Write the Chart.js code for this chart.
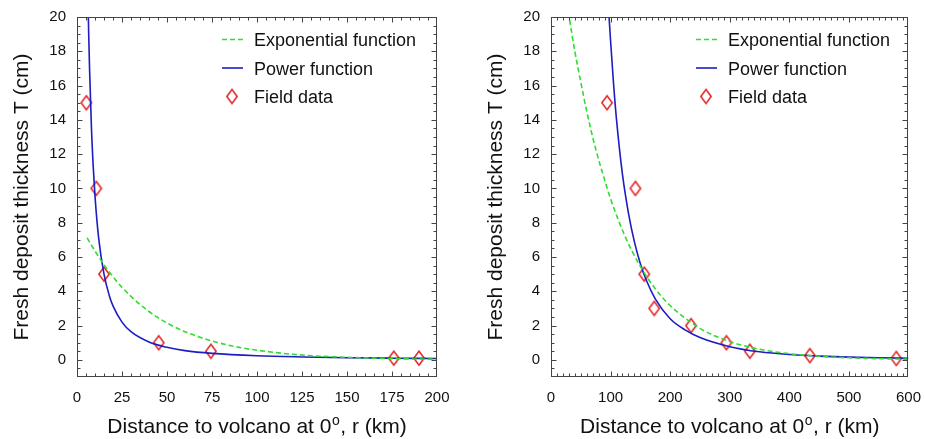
<!DOCTYPE html>
<html>
<head>
<meta charset="utf-8">
<title>Fresh deposit thickness vs distance</title>
<script src="https://cdn.jsdelivr.net/npm/chart.js@4.4.1/dist/chart.umd.min.js"></script>
<style>
  html, body { margin: 0; padding: 0; background: #fff; }
  .wrap { position: absolute; top: 0; height: 439px; }
  #w1 { left: 0; width: 462px; }
  #w2 { left: 462px; width: 463px; }
</style>
</head>
<body>
<div class="wrap" id="w1"><canvas id="c1"></canvas></div>
<div class="wrap" id="w2"><canvas id="c2"></canvas></div>
<script>
// tick labels
const yTicks = [0, 2, 4, 6, 8, 10, 12, 14, 16, 18, 20];
const xTicksLeft = [0, 25, 50, 75, 100, 125, 150, 175, 200];
const xTicksRight = [0, 100, 200, 300, 400, 500, 600];

// left panel (r in km, T in cm)
const leftFieldR = [5.2, 10.7, 15, 45.4, 74.4, 176, 190];
const leftFieldT = [15, 10, 5, 1, 0.5, 0.1, 0.1];
const leftExpR = [5.6, 10, 15, 20, 25, 30, 40, 50, 60, 75, 90, 100, 125, 150, 175, 200];
const leftExpT = [7.12, 6.35, 5.55, 4.85, 4.23, 3.7, 2.82, 2.15, 1.64, 1.1, 0.73, 0.56, 0.28, 0.15, 0.07, 0.04];
const leftPowR = [6, 6.5, 7, 8, 9, 10, 12, 15, 18, 20, 25, 30, 40, 50, 60, 75, 100, 125, 150, 175, 200];
const leftPowT = [21.6, 19, 16.9, 13.6, 11.3, 9.55, 7.13, 5.0, 3.73, 3.15, 2.2, 1.64, 1.04, 0.73, 0.54, 0.38, 0.24, 0.17, 0.125, 0.098, 0.079];

// right panel
const rightFieldR = [94, 141.7, 156.6, 173.2, 235, 294.4, 333.7, 434.4, 579.5];
const rightFieldT = [15, 10, 5, 3, 2, 1, 0.5, 0.25, 0.08];
const rightExpR = [25, 30, 40, 50, 60, 75, 90, 100, 125, 150, 175, 200, 250, 300, 350, 400, 450, 500, 550, 600];
const rightExpT = [21.2, 20.1, 18, 16.2, 14.5, 12.3, 10.5, 9.39, 7.15, 5.45, 4.15, 3.17, 1.84, 1.07, 0.62, 0.36, 0.21, 0.12, 0.07, 0.04];
const rightPowR = [96, 98, 100, 105, 110, 120, 130, 140, 150, 160, 175, 200, 225, 250, 300, 350, 400, 450, 500, 550, 600];
const rightPowT = [20.9, 19.7, 18.6, 16.1, 14, 10.8, 8.56, 6.88, 5.61, 4.64, 3.56, 2.4, 1.75, 1.3, 0.77, 0.47, 0.31, 0.22, 0.16, 0.12, 0.094];

const FONT = '"Liberation Sans", Arial, Helvetica, sans-serif';
const GREEN = '#2fdc2f';
const BLUE = '#1d1dc4';
const RED = '#e21f1f';

function pts(xs, ys) {
  return xs.map((x, i) => ({ x: x, y: ys[i] }));
}

// tall diamond marker
const diamond = document.createElement('canvas');
diamond.width = 14;
diamond.height = 18;
(function () {
  const c = diamond.getContext('2d');
  c.strokeStyle = RED;
  c.lineWidth = 1.5;
  c.beginPath();
  c.moveTo(7, 2);
  c.lineTo(12.2, 9);
  c.lineTo(7, 16);
  c.lineTo(1.8, 9);
  c.closePath();
  c.stroke();
})();

// box frame with inward ticks on all four sides + legend + x title
const framePlugin = {
  id: 'frameTicks',
  afterDatasetsDraw(chart, args, opts) {
    const { ctx, chartArea: a, scales: { x, y } } = chart;
    const L = Math.round(a.left) + 0.5, R = Math.round(a.right) - 0.5;
    const T = Math.round(a.top) + 0.5, B = Math.round(a.bottom) - 0.5;
    ctx.save();
    ctx.strokeStyle = '#444';
    ctx.lineWidth = 1;
    ctx.strokeRect(L, T, R - L, B - T);
    ctx.beginPath();
    const nx = Math.round((x.max - x.min) / opts.xMinor);
    for (let i = 1; i < nx; i++) {
      const v = x.min + i * opts.xMinor;
      const len = v % opts.xMajor === 0 ? 5 : 3;
      const px = Math.round(x.getPixelForValue(v)) + 0.5;
      ctx.moveTo(px, B); ctx.lineTo(px, B - len);
      ctx.moveTo(px, T); ctx.lineTo(px, T + len);
    }
    const ny = Math.round((y.max - y.min) / 0.5);
    for (let i = 1; i < ny; i++) {
      const v = y.min + i * 0.5;
      const len = (v >= 0 && v % 2 === 0) ? 5 : 3;
      const py = Math.round(y.getPixelForValue(v)) + 0.5;
      ctx.moveTo(L, py); ctx.lineTo(L + len, py);
      ctx.moveTo(R, py); ctx.lineTo(R - len, py);
    }
    ctx.stroke();
    ctx.restore();
  },
  afterDraw(chart) {
    const { ctx, chartArea: a } = chart;
    const ds = chart.data.datasets;
    ctx.save();
    // legend
    ctx.font = '18px ' + FONT;
    ctx.fillStyle = '#111';
    ctx.textBaseline = 'alphabetic';
    ctx.textAlign = 'left';
    const sx = a.left + 145, tx = a.left + 177;
    ds.forEach((d, i) => {
      const base = a.top + 29 + i * 28.5;
      const my = base - 6.5;
      if (d.showLine) {
        ctx.strokeStyle = d.borderColor;
        ctx.lineWidth = d.borderWidth;
        ctx.setLineDash(d.borderDash || []);
        ctx.beginPath();
        ctx.moveTo(sx, my);
        ctx.lineTo(sx + 21, my);
        ctx.stroke();
        ctx.setLineDash([]);
      } else {
        ctx.drawImage(diamond, sx + 10 - diamond.width / 2, my - diamond.height / 2);
      }
      ctx.fillText(d.label, tx, base);
    });
    // x axis title with superscript o
    const partA = 'Distance to volcano at 0', sup = 'o', partB = ', r (km)';
    const main = '21px ' + FONT, small = '14px ' + FONT;
    ctx.font = main;
    const wa = ctx.measureText(partA).width, wb = ctx.measureText(partB).width;
    ctx.font = small;
    const ws = ctx.measureText(sup).width + 1;
    let x0 = (a.left + a.right) / 2 - (wa + ws + wb) / 2;
    const yb = 433;
    ctx.font = main;
    ctx.fillText(partA, x0, yb);
    ctx.font = small;
    ctx.fillText(sup, x0 + wa + 0.5, yb - 8);
    ctx.font = main;
    ctx.fillText(partB, x0 + wa + ws, yb);
    ctx.restore();
  }
};

function makeChart(id, cfg) {
  return new Chart(document.getElementById(id), {
    type: 'scatter',
    data: {
      datasets: [
        {
          label: 'Exponential function',
          data: pts(cfg.expR, cfg.expT),
          showLine: true,
          borderColor: GREEN,
          borderWidth: 1.6,
          borderDash: [5, 3],
          pointRadius: 0,
          pointHitRadius: 0,
          cubicInterpolationMode: 'monotone'
        },
        {
          label: 'Power function',
          data: pts(cfg.powR, cfg.powT),
          showLine: true,
          borderColor: BLUE,
          borderWidth: 1.6,
          pointRadius: 0,
          pointHitRadius: 0,
          cubicInterpolationMode: 'monotone'
        },
        {
          label: 'Field data',
          data: pts(cfg.fieldR, cfg.fieldT),
          showLine: false,
          pointStyle: diamond,
          pointRadius: 7
        }
      ]
    },
    options: {
      responsive: true,
      maintainAspectRatio: false,
      animation: false,
      layout: { padding: { top: 17, right: cfg.padRight, bottom: 0, left: 0 } },
      plugins: {
        legend: { display: false },
        tooltip: { enabled: false },
        frameTicks: { xMinor: cfg.xMinor, xMajor: cfg.xMajor }
      },
      scales: {
        x: {
          type: 'linear',
          min: 0,
          max: cfg.xMax,
          grid: { display: false },
          border: { display: false },
          ticks: { font: { family: FONT, size: 15 }, color: '#111', padding: 4, maxRotation: 0 },
          afterBuildTicks: (s) => { s.ticks = cfg.xTicks.map(v => ({ value: v })); },
          afterFit: (s) => { s.height = 62; }
        },
        y: {
          type: 'linear',
          min: -1,
          max: 20,
          grid: { display: false },
          border: { display: false },
          ticks: { font: { family: FONT, size: 15 }, color: '#111', padding: 3 },
          title: {
            display: true,
            text: 'Fresh deposit thickness T (cm)',
            font: { family: FONT, size: 21 },
            color: '#111',
            padding: { top: cfg.titlePad, bottom: 0 }
          },
          afterBuildTicks: (s) => { s.ticks = yTicks.map(v => ({ value: v })); },
          afterFit: (s) => { s.width = cfg.yWidth; }
        }
      }
    },
    plugins: [framePlugin]
  });
}

makeChart('c1', {
  expR: leftExpR, expT: leftExpT, powR: leftPowR, powT: leftPowT,
  fieldR: leftFieldR, fieldT: leftFieldT,
  xMax: 200, xTicks: xTicksLeft, xMinor: 5, xMajor: 25,
  yWidth: 77, padRight: 25, titlePad: 10
});

makeChart('c2', {
  expR: rightExpR, expT: rightExpT, powR: rightPowR, powT: rightPowT,
  fieldR: rightFieldR, fieldT: rightFieldT,
  xMax: 600, xTicks: xTicksRight, xMinor: 10, xMajor: 100,
  yWidth: 89, padRight: 13, titlePad: 22
});
</script>
</body>
</html>
